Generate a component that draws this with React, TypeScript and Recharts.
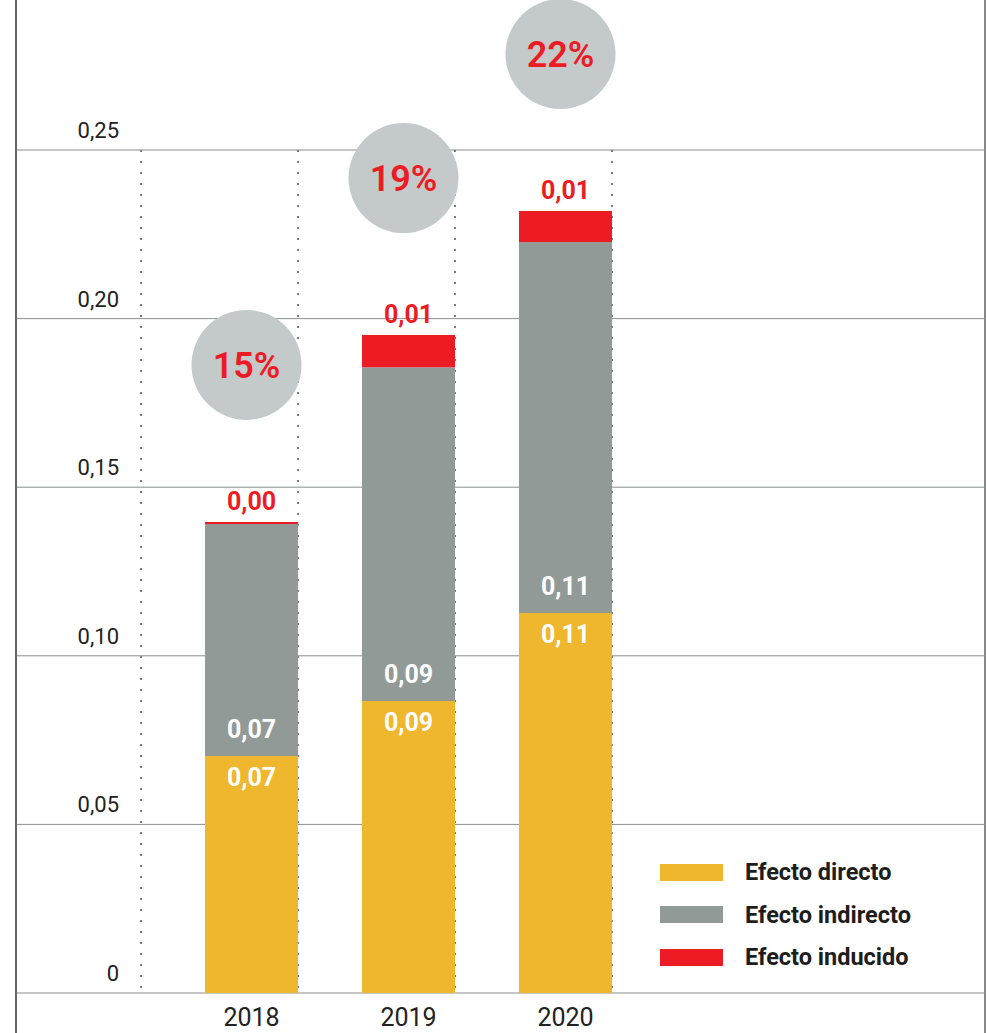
import { BarChart, Bar, XAxis, YAxis, CartesianGrid, LabelList, Legend } from "recharts";

// valores
const years = ["2018", "2019", "2020"];
const directo = [0.0703, 0.0866, 0.1127];
const indirecto = [0.0688, 0.099, 0.11];
const inducido = [0.0006, 0.0095, 0.0092];
const directoLabels = ["0,07", "0,09", "0,11"];
const indirectoLabels = ["0,07", "0,09", "0,11"];
const inducidoLabels = ["0,00", "0,01", "0,01"];
const pctLabels = ["15%", "19%", "22%"];
const yTicks = [0, 0.05, 0.1, 0.15, 0.2, 0.25];

const YELLOW = "#EEB72E";
const GRAY = "#929A98";
const RED = "#ED1C24";
const CIRCLE = "#C3CAC9";
const BAR = 93;
const PAD_L = 156;
const PAD_R = 342;

const data = years.map((year, i) => ({
  year,
  directo: directo[i],
  indirecto: indirecto[i],
  inducido: inducido[i],
  directoLabel: directoLabels[i],
  indirectoLabel: indirectoLabels[i],
  inducidoLabel: inducidoLabels[i],
  pct: pctLabels[i],
}));

const fmtTick = (v: number) => (v === 0 ? "0" : v.toFixed(2).replace(".", ","));

const YTick = (props: any) => {
  const { y, payload } = props;
  return (
    <text x={119} y={y - 12} textAnchor="end" fontSize={22} fill="#222">
      {fmtTick(payload.value)}
    </text>
  );
};

// líneas punteadas en el borde derecho de cada barra (y una antes de la primera)
const dottedLines = ({ xAxis, offset }: any) => {
  const s = xAxis && xAxis.scale;
  let pos: ((v: string) => number) | null = null;
  let bw = 0;
  if (s) {
    if (typeof s === "function" && s.bandwidth) {
      pos = (v) => s(v);
      bw = s.bandwidth();
    } else if (typeof s.map === "function" && typeof s.bandwidth === "function") {
      pos = (v) => s.map(v);
      bw = s.bandwidth();
    }
  }
  if (!pos || !isFinite(pos(years[0]))) {
    // misma cuenta que la escala de bandas
    bw = (offset.width - PAD_L - PAD_R) / years.length;
    pos = (v) => offset.left + PAD_L + years.indexOf(v) * bw;
  }
  const lines = [pos(years[0]) - bw / 2 + BAR / 2];
  years.forEach((y) => lines.push(pos!(y) + bw / 2 + BAR / 2));
  return lines;
};

const PctBubble = (props: any) => {
  const { x, y, width, value } = props;
  const cx = x + width / 2 - 5;
  const cy = y - 157;
  return (
    <g>
      <circle cx={cx} cy={cy} r={55} fill={CIRCLE} />
      <text x={cx} y={cy + 1} textAnchor="middle" dominantBaseline="central" fontSize={36} fontWeight={600} fill={RED}>
        {value}
      </text>
    </g>
  );
};

const LegendBox = (props: any) => {
  const { payload } = props;
  return (
    <div>
      {payload.map((p: any) => (
        <div key={p.value} style={{ display: "flex", alignItems: "center", height: 42.5 }}>
          <div style={{ width: 63, height: 17, background: p.color, marginRight: 22 }} />
          <span style={{ fontSize: 23.5, fontWeight: 700, color: "#1d1d1b" }}>{p.value}</span>
        </div>
      ))}
    </div>
  );
};

export default function App() {
  return (
    <div style={{ position: "absolute", left: 0, top: 0, width: 986, height: 1033, fontFamily: "Roboto, sans-serif", background: "#fff" }}>
      <div style={{ position: "absolute", left: 15, top: 0, width: 2, height: 1033, background: "#666" }} />
      <div style={{ position: "absolute", left: 984, top: 0, width: 2, height: 1033, background: "#888" }} />
      <BarChart width={986} height={1033} data={data} margin={{ top: 150, right: 0, bottom: 0, left: 16 }}>
        <CartesianGrid vertical={false} stroke="#8a8f8e" />
        <CartesianGrid
          horizontal={false}
          verticalCoordinatesGenerator={dottedLines}
          stroke="#7a7a7a"
          strokeWidth={2}
          strokeDasharray="2 9"
        />
        <XAxis
          dataKey="year"
          height={40}
          padding={{ left: PAD_L, right: PAD_R }}
          axisLine={false}
          tickLine={false}
          tickMargin={9}
          tick={{ fontSize: 25, fill: "#222" }}
        />
        <YAxis width={1} domain={[0, 0.25]} ticks={yTicks} interval={0} axisLine={false} tickLine={false} tick={<YTick />} />
        <Legend
          layout="horizontal"
          verticalAlign="middle"
          align="center"
          wrapperStyle={{ left: 660, top: 851, width: 320 }}
          content={<LegendBox />}
        />
        <Bar dataKey="directo" name="Efecto directo" stackId="a" fill={YELLOW} barSize={BAR} isAnimationActive={false}>
          <LabelList dataKey="directoLabel" position="insideTop" offset={12} fill="#fff" fontSize={25} fontWeight={700} />
        </Bar>
        <Bar dataKey="indirecto" name="Efecto indirecto" stackId="a" fill={GRAY} barSize={BAR} isAnimationActive={false}>
          <LabelList dataKey="indirectoLabel" position="insideBottom" offset={18} fill="#fff" fontSize={25} fontWeight={700} />
        </Bar>
        <Bar dataKey="inducido" name="Efecto inducido" stackId="a" fill={RED} barSize={BAR} isAnimationActive={false}>
          <LabelList dataKey="inducidoLabel" position="top" offset={12} fill={RED} fontSize={25} fontWeight={700} />
          <LabelList dataKey="pct" content={<PctBubble />} />
        </Bar>
      </BarChart>
    </div>
  );
}
